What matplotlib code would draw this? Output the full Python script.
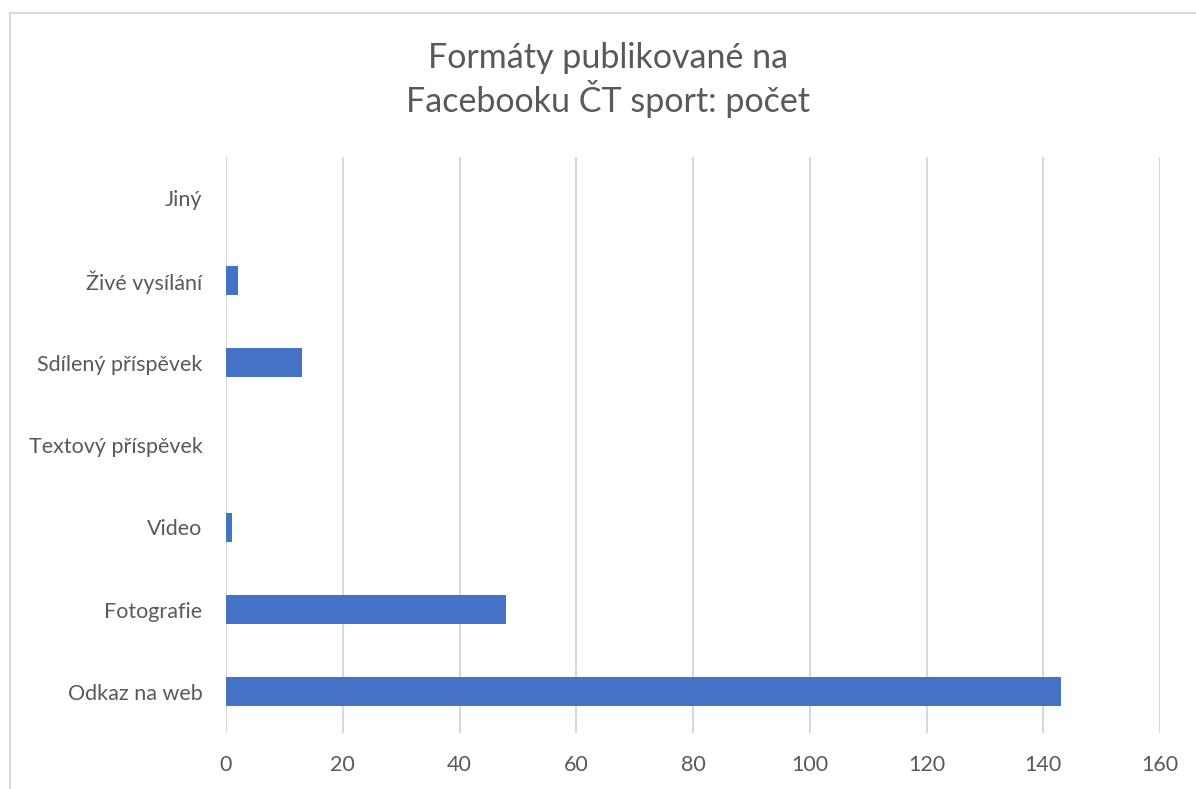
import matplotlib
matplotlib.use("Agg")
import matplotlib.pyplot as plt
from matplotlib.patches import Rectangle

categories = ["Odkaz na web", "Fotografie", "Video", "Textový příspěvek",
              "Sdílený příspěvek", "Živé vysílání", "Jiný"]
values = [143, 48, 1, 0, 13, 2, 0]
xticks = [0, 20, 40, 60, 80, 100, 120, 140, 160]
title = "Formáty publikované na\nFacebooku ČT sport: počet"

plt.rcParams['font.family'] = ['Lato', 'DejaVu Sans']
W, H = 1196, 789
fig = plt.figure(figsize=(W / 100, H / 100), dpi=100)
fig.patch.set_facecolor("white")

# outer chart border (partially cropped)
fig.patches.append(Rectangle((10 / W, -0.1), 1.2, (H - 13) / H + 0.1,
                             transform=fig.transFigure, fill=False,
                             edgecolor="#d9d9d9", linewidth=1.5))

ax = fig.add_axes([226 / W, (H - 733) / H, (1160 - 226) / W, (733 - 157) / H])
y = range(len(categories))
ax.barh(list(y), values, height=0.35, color="#4472C4", zorder=3)
ax.set_xlim(0, 160)
ax.set_ylim(-0.5, len(categories) - 0.5)
ax.set_xticks(xticks)
ax.set_xticklabels([str(t) for t in xticks])
ax.set_yticks(list(y))
ax.set_yticklabels(categories)
for s in ax.spines.values():
    s.set_visible(False)
ax.grid(axis="x", color="#d9d9d9", linewidth=1.5, zorder=0)
ax.tick_params(axis="both", length=0, labelsize=15.5, labelcolor="#595959")
ax.tick_params(axis="x", pad=16)
ax.tick_params(axis="y", pad=17)

fig.text(608 / W, 1 - 80 / H, title, ha="center", va="center",
         fontsize=24.5, color="#595959", linespacing=1.2)

fig.savefig("out.png", dpi=100)
